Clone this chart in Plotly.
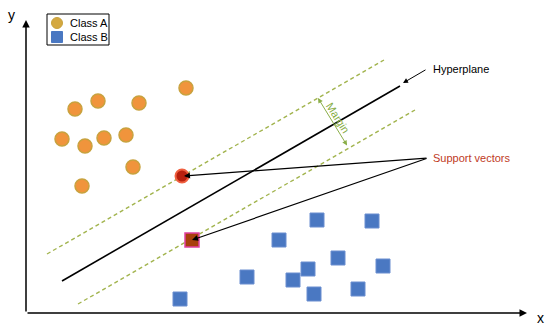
import plotly.graph_objects as go

# Data in image-space units (x right, y down)
class_a_x = [75, 98, 139, 186, 62, 85, 104, 126, 133, 82]
class_a_y = [109, 101, 103, 88, 139, 146, 138, 135, 167, 186]
class_b_x = [317, 372, 279, 338, 308, 383, 247, 293, 358, 314, 180]
class_b_y = [220, 221, 240, 258, 269, 266, 277, 280, 289, 294, 299]
sv_a = (182, 176)
sv_b = (192, 240)
hyper_x = [62, 400]
hyper_y = [281, 86]
upper_x = [47, 384]
upper_y = [254, 60]
lower_x = [78, 415]
lower_y = [304, 110]

fig = go.Figure()

dash_style = dict(color="#A2B44E", width=1.4, dash="4px,3px")
fig.add_trace(go.Scatter(x=upper_x, y=upper_y, mode="lines", line=dash_style, hoverinfo="skip"))
fig.add_trace(go.Scatter(x=lower_x, y=lower_y, mode="lines", line=dash_style, hoverinfo="skip"))
fig.add_trace(go.Scatter(x=hyper_x, y=hyper_y, mode="lines",
                         line=dict(color="black", width=1.6), hoverinfo="skip"))

fig.add_trace(go.Scatter(x=class_a_x, y=class_a_y, mode="markers",
                         marker=dict(symbol="circle", size=14, color="#F0943C",
                                     line=dict(color="#C8A23E", width=1.5))))
fig.add_trace(go.Scatter(x=class_b_x, y=class_b_y, mode="markers",
                         marker=dict(symbol="square", size=14, color="#4A78C2",
                                     line=dict(color="#6A8ED0", width=1))))
fig.add_trace(go.Scatter(x=[sv_a[0]], y=[sv_a[1]], mode="markers",
                         marker=dict(symbol="circle", size=13, color="#B8200E",
                                     line=dict(color="#F06040", width=2))))
fig.add_trace(go.Scatter(x=[sv_b[0]], y=[sv_b[1]], mode="markers",
                         marker=dict(symbol="square", size=14, color="#A8400C",
                                     line=dict(color="#E040A0", width=1.5))))

# legend (manual)
fig.add_shape(type="rect", x0=47, y0=14, x1=109, y1=45, layer="below",
              line=dict(color="black", width=1), fillcolor="white")
fig.add_trace(go.Scatter(x=[57], y=[23], mode="markers",
                         marker=dict(symbol="circle", size=11, color="#D4A840",
                                     line=dict(color="#C8A23E", width=1))))
fig.add_trace(go.Scatter(x=[57], y=[37], mode="markers",
                         marker=dict(symbol="square", size=11, color="#4A78C2",
                                     line=dict(color="#4A78C2", width=1))))

anns = []
font = dict(family="Liberation Sans, Arial, sans-serif", size=11, color="black")
anns.append(dict(x=68, y=23, text="Class A", showarrow=False, xanchor="left", yanchor="middle", font=font))
anns.append(dict(x=68, y=37, text="Class B", showarrow=False, xanchor="left", yanchor="middle", font=font))

# axes arrows
anns.append(dict(x=26, y=20, ax=26, ay=313, xref="x", yref="y", axref="x", ayref="y",
                 showarrow=True, arrowhead=2, arrowsize=1, arrowwidth=1.5, arrowcolor="black", text=""))
anns.append(dict(x=527, y=313, ax=26, ay=313, xref="x", yref="y", axref="x", ayref="y",
                 showarrow=True, arrowhead=2, arrowsize=1, arrowwidth=1.5, arrowcolor="black", text=""))
anns.append(dict(x=11, y=15, text="y", showarrow=False, font=dict(family="Liberation Sans, Arial", size=14, color="black")))
anns.append(dict(x=540, y=318, text="x", showarrow=False, font=dict(family="Liberation Sans, Arial", size=14, color="black")))

# hyperplane label
anns.append(dict(x=403, y=83, ax=427, ay=69, xref="x", yref="y", axref="x", ayref="y",
                 showarrow=True, arrowhead=2, arrowsize=1, arrowwidth=1, arrowcolor="black", text=""))
anns.append(dict(x=431, y=69, text="Hyperplane", showarrow=False, xanchor="left", yanchor="middle", font=font))

# margin double arrow
anns.append(dict(x=318, y=98, ax=348, ay=147, xref="x", yref="y", axref="x", ayref="y",
                 showarrow=True, arrowhead=2, startarrowhead=2, arrowside="end+start",
                 arrowsize=1, arrowwidth=1, arrowcolor="#8AAE48", text=""))
anns.append(dict(x=338, y=118, text="Margin", showarrow=False, textangle=58,
                 font=dict(family="Liberation Sans, Arial", size=11, color="#86AC44")))

# support vectors
anns.append(dict(x=sv_a[0] + 2, y=sv_a[1], ax=428, ay=158, xref="x", yref="y", axref="x", ayref="y",
                 showarrow=True, arrowhead=2, arrowsize=1, arrowwidth=1.2, arrowcolor="black", text=""))
anns.append(dict(x=sv_b[0], y=sv_b[1], ax=428, ay=158, xref="x", yref="y", axref="x", ayref="y",
                 showarrow=True, arrowhead=2, arrowsize=1, arrowwidth=1.2, arrowcolor="black", text=""))
anns.append(dict(x=431, y=158, text="Support vectors", showarrow=False, xanchor="left", yanchor="middle",
                 font=dict(family="Liberation Sans, Arial", size=11, color="#C03A1E")))

fig.update_layout(
    width=550, height=331,
    margin=dict(l=0, r=0, t=0, b=0),
    paper_bgcolor="white", plot_bgcolor="white",
    showlegend=False,
    annotations=anns,
    xaxis=dict(range=[0, 550], visible=False, fixedrange=True),
    yaxis=dict(range=[331, 0], visible=False, fixedrange=True),
)

fig.write_html("out.html", config={"displayModeBar": False},
               post_script="document.body.style.margin='0';document.body.style.padding='0';document.body.style.overflow='hidden';")
